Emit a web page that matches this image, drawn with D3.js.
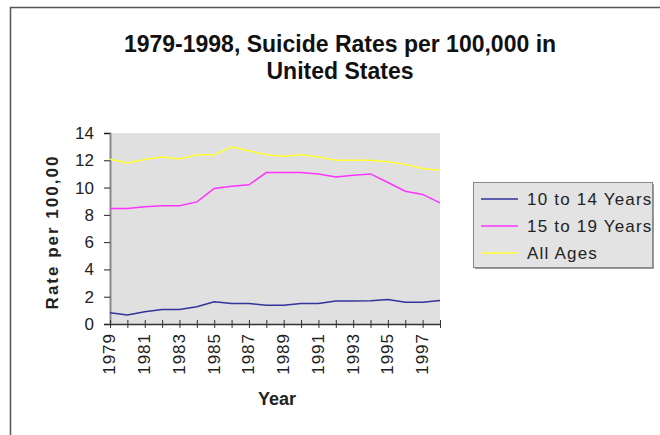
<!DOCTYPE html>
<html>
<head>
<meta charset="utf-8">
<script src="https://cdn.jsdelivr.net/npm/d3@7"></script>
<style>
  body { margin: 0; background: #fff; }
  svg { display: block; font-family: "Liberation Sans", Arial, sans-serif; }
</style>
</head>
<body>
<svg width="660" height="435"></svg>
<script>
const years = d3.range(1979, 1999);
const kids = [0.83, 0.66, 0.9, 1.07, 1.07, 1.27, 1.63, 1.5, 1.5, 1.37, 1.37, 1.5, 1.5, 1.68, 1.68, 1.7, 1.8, 1.6, 1.6, 1.73];
const teens = [8.46, 8.46, 8.6, 8.66, 8.66, 8.95, 9.93, 10.1, 10.2, 11.1, 11.1, 11.1, 11.0, 10.78, 10.9, 11.0, 10.37, 9.73, 9.5, 8.88];
const allAges = [12.07, 11.8, 12.05, 12.24, 12.1, 12.4, 12.4, 12.97, 12.7, 12.4, 12.3, 12.4, 12.24, 12.0, 12.0, 12.0, 11.9, 11.7, 11.4, 11.27];
const seriesNames = ["10 to 14 Years", "15 to 19 Years", "All Ages"];
const seriesColors = ["#333399", "#ff33ff", "#ffff33"];
const yTicks = [0, 2, 4, 6, 8, 10, 12, 14];

const svg = d3.select("svg");

// outer chart frame (clipped by the window on right and bottom)
svg.append("rect")
  .attr("x", 10.5).attr("y", 7.5)
  .attr("width", 700).attr("height", 500)
  .attr("fill", "none").attr("stroke", "#555").attr("stroke-width", 1.5);

const plotLeft = 110, plotRight = 440, plotTop = 133, plotBottom = 324;

const x = d3.scalePoint().domain(years).range([plotLeft, plotRight]);
const y = d3.scaleLinear().domain([0, 14]).range([plotBottom, plotTop]);

svg.append("rect")
  .attr("x", plotLeft).attr("y", plotTop)
  .attr("width", plotRight - plotLeft).attr("height", plotBottom - plotTop)
  .attr("fill", "#e0e0e0");

// title, centred over the whole chart area
const title = svg.append("text")
  .attr("text-anchor", "middle")
  .attr("font-size", 23).attr("font-weight", "bold").attr("fill", "#111");
title.append("tspan").attr("x", 340).attr("y", 52).text("1979-1998, Suicide Rates per 100,000 in");
title.append("tspan").attr("x", 340).attr("y", 79).text("United States");

// y axis
const yAxis = svg.append("g")
  .attr("transform", `translate(${plotLeft},0)`)
  .call(d3.axisLeft(y).tickValues(yTicks).tickSize(6).tickPadding(10));
yAxis.select(".domain").attr("stroke", "#888").attr("stroke-width", 2);
yAxis.selectAll(".tick line").attr("stroke", "#222");
yAxis.selectAll("text").attr("font-size", 17).attr("fill", "#222");

// x axis
const xAxis = svg.append("g")
  .attr("transform", `translate(0,${plotBottom})`)
  .call(d3.axisBottom(x).tickSizeInner(4).tickSizeOuter(0).tickFormat(d => (d - 1979) % 2 === 0 ? d : ""));
xAxis.select(".domain").attr("stroke", "#333").attr("stroke-width", 1.5);
xAxis.selectAll(".tick line").attr("stroke", "#333").attr("y1", -4);
xAxis.selectAll("text")
  .attr("font-size", 17).attr("fill", "#222")
  .attr("letter-spacing", 1)
  .attr("transform", "rotate(-90)")
  .attr("text-anchor", "end")
  .attr("x", -9).attr("y", -1).attr("dy", "0.35em");

// axis titles
svg.append("text")
  .attr("transform", "translate(58,232) rotate(-90)")
  .attr("text-anchor", "middle")
  .attr("font-size", 17).attr("font-weight", "bold").attr("fill", "#222")
  .attr("letter-spacing", 2)
  .text("Rate per 100,00");
svg.append("text")
  .attr("x", 277).attr("y", 405)
  .attr("text-anchor", "middle")
  .attr("font-size", 18).attr("font-weight", "bold").attr("fill", "#222")
  .text("Year");

// lines
const line = d3.line().x((d, i) => x(years[i])).y(d => y(d));
[kids, teens, allAges].forEach((vals, i) => {
  svg.append("path")
    .datum(vals)
    .attr("d", line)
    .attr("fill", "none")
    .attr("stroke", seriesColors[i])
    .attr("stroke-width", 1.5);
});

// legend
const legend = svg.append("g").attr("transform", "translate(473,182)");
legend.append("rect").attr("x", 2).attr("y", 2).attr("width", 179).attr("height", 85).attr("fill", "#999");
legend.append("rect").attr("x", 0.5).attr("y", 0.5).attr("width", 179).attr("height", 85)
  .attr("fill", "#e3e3e3").attr("stroke", "#888");
seriesNames.forEach((name, i) => {
  const cy = 17 + i * 27;
  legend.append("line")
    .attr("x1", 8).attr("x2", 45).attr("y1", cy).attr("y2", cy)
    .attr("stroke", seriesColors[i]).attr("stroke-width", 1.5);
  legend.append("text")
    .attr("x", 54).attr("y", cy).attr("dy", "0.35em")
    .attr("font-size", 17).attr("fill", "#222")
    .attr("letter-spacing", 1.2)
    .text(name);
});
</script>
</body>
</html>
